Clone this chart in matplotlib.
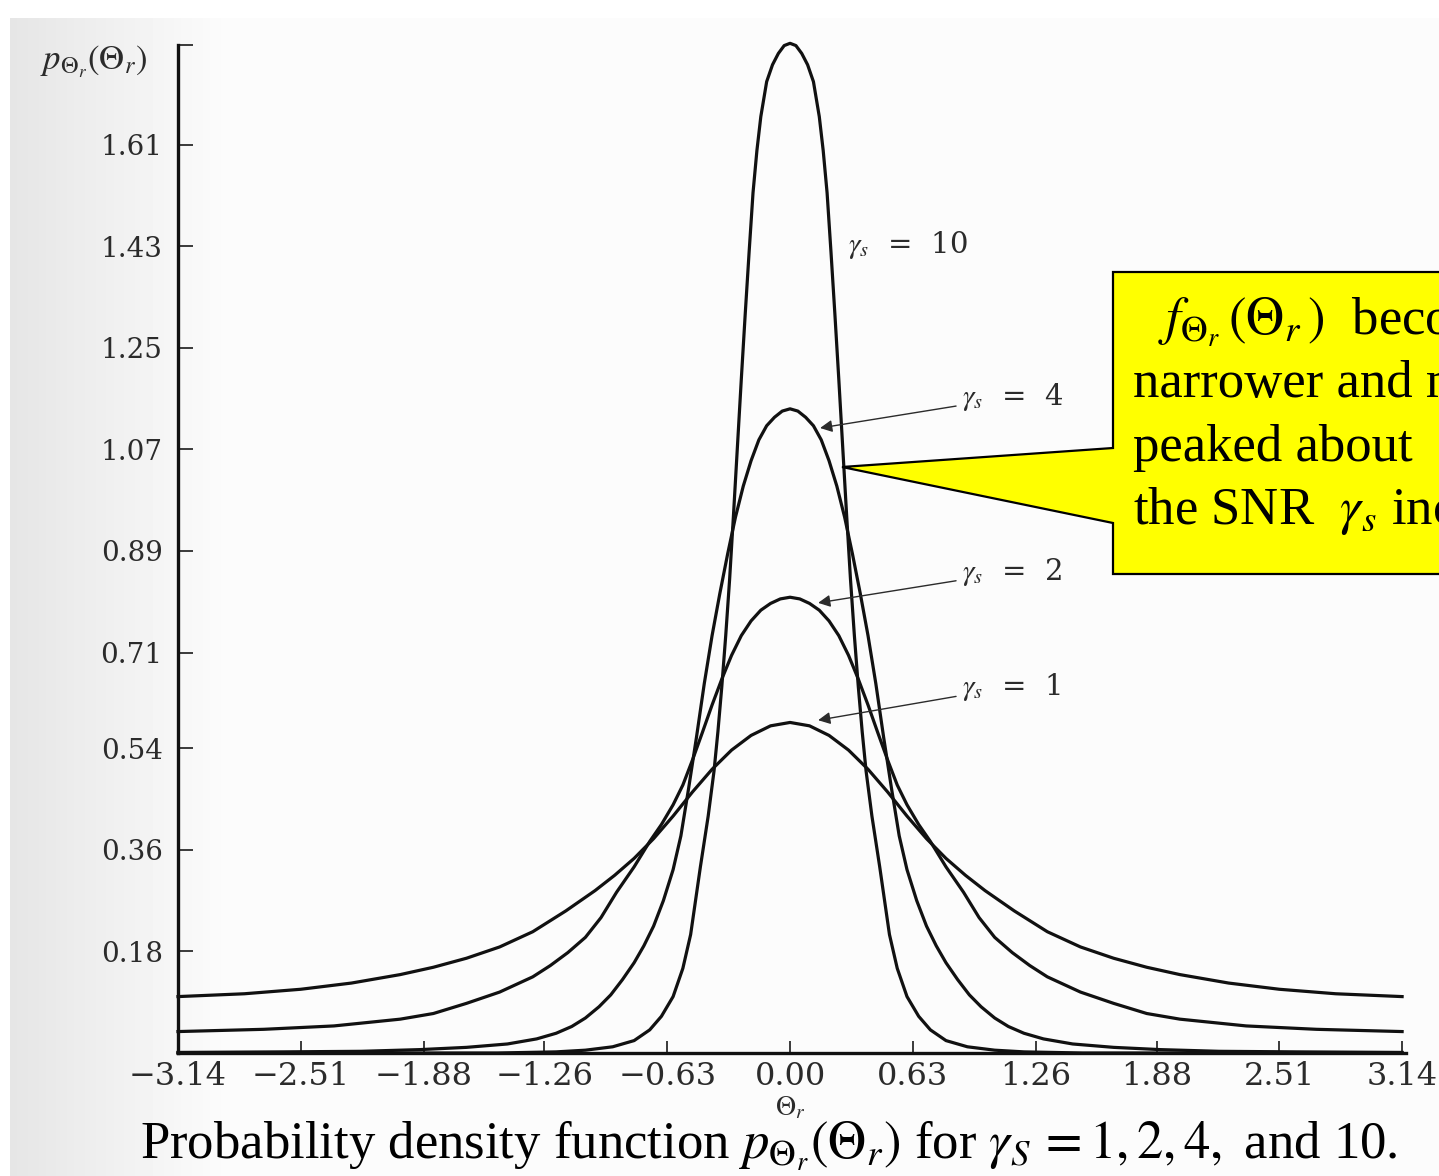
import numpy as np
import matplotlib
matplotlib.use("Agg")
import matplotlib.pyplot as plt
from matplotlib.patches import Polygon

plt.rcParams["mathtext.fontset"] = "stix"

theta_g1 = [0.00, 0.10, 0.20, 0.30, 0.40, 0.50, 0.60, 0.70, 0.80, 0.90, 1.00, 1.15, 1.32,
            1.49, 1.66, 1.83, 2.00, 2.25, 2.51, 2.80, 3.14]
pdf_g1 = [0.586, 0.580, 0.563, 0.537, 0.503, 0.463, 0.420, 0.380, 0.345, 0.315, 0.288, 0.252, 0.215,
          0.188, 0.168, 0.152, 0.139, 0.124, 0.113, 0.105, 0.100]

theta_g2 = [0.00, 0.05, 0.10, 0.15, 0.20, 0.25, 0.30, 0.35, 0.40, 0.45, 0.50, 0.55, 0.60, 0.66,
            0.72, 0.80, 0.89, 0.97, 1.05, 1.14, 1.23, 1.32, 1.49, 1.66, 1.83, 2.00, 2.34, 2.70, 3.14]
pdf_g2 = [0.808, 0.805, 0.797, 0.785, 0.766, 0.740, 0.705, 0.663, 0.617, 0.568, 0.520, 0.475, 0.440, 0.405,
          0.375, 0.330, 0.285, 0.240, 0.205, 0.178, 0.155, 0.135, 0.108, 0.088, 0.070, 0.060, 0.048, 0.042, 0.038]

theta_g4 = [0.00, 0.04, 0.08, 0.12, 0.16, 0.20, 0.24, 0.28, 0.32, 0.36, 0.40, 0.44, 0.48, 0.52,
            0.56, 0.60, 0.65, 0.70, 0.75, 0.80, 0.86, 0.92, 0.98, 1.05, 1.12, 1.20, 1.30, 1.45,
            1.66, 1.90, 2.20, 2.60, 3.14]
pdf_g4 = [1.142, 1.138, 1.127, 1.112, 1.087, 1.050, 1.005, 0.950, 0.885, 0.815, 0.740, 0.655, 0.560, 0.470,
          0.385, 0.325, 0.270, 0.225, 0.190, 0.160, 0.130, 0.103, 0.082, 0.062, 0.047, 0.035, 0.025, 0.016,
          0.010, 0.006, 0.003, 0.002, 0.001]

theta_g10 = [0.00, 0.03, 0.06, 0.09, 0.12, 0.15, 0.17, 0.19, 0.21, 0.23, 0.25, 0.27, 0.29, 0.31,
             0.33, 0.35, 0.37, 0.39, 0.42, 0.46, 0.51, 0.55, 0.60, 0.66, 0.72, 0.80, 0.91, 1.05,
             1.20, 1.50, 3.14]
pdf_g10 = [1.790, 1.786, 1.772, 1.752, 1.722, 1.660, 1.600, 1.525, 1.420, 1.310, 1.195, 1.075, 0.955, 0.840,
           0.740, 0.650, 0.570, 0.500, 0.420, 0.330, 0.210, 0.150, 0.100, 0.065, 0.041, 0.022, 0.011, 0.005,
           0.002, 0.000, 0.000]

xticks = [-3.14, -2.51, -1.88, -1.26, -0.63, 0.00, 0.63, 1.26, 1.88, 2.51, 3.14]
yticks = [0.18, 0.36, 0.54, 0.71, 0.89, 1.07, 1.25, 1.43, 1.61]

W, H = 1439, 1176
fig = plt.figure(figsize=(W / 100, H / 100), dpi=100, facecolor="white")

# scanned page background: light grey band on the left fading to white
bg = fig.add_axes([10 / W, 0, 1 - 10 / W, 1 - 18 / H], zorder=-5)
grad = np.linspace(0.90, 0.985, 60)
grad = np.concatenate([grad, np.full(340, 0.985)])
bg.imshow(np.tile(grad, (10, 1)), cmap="gray", vmin=0, vmax=1, aspect="auto",
          extent=[0, 1, 0, 1])
bg.axis("off")

ax = fig.add_axes([178 / W, 1 - 1053 / H, (1406 - 178) / W, (1053 - 45) / H])
ax.patch.set_alpha(0)

ink = "#111111"
grey = "#2b2b2b"
for th, p in [(theta_g1, pdf_g1), (theta_g2, pdf_g2), (theta_g4, pdf_g4), (theta_g10, pdf_g10)]:
    th = np.asarray(th)
    p = np.asarray(p)
    x = np.concatenate([-th[::-1], th[1:]])
    y = np.concatenate([p[::-1], p[1:]])
    ax.plot(x, y, color=ink, lw=2.3, clip_on=False, solid_joinstyle="round")

ax.set_xlim(-3.14, 3.16)
ax.set_ylim(0, 1.787)
for s in ["top", "right"]:
    ax.spines[s].set_visible(False)
for s in ["left", "bottom"]:
    ax.spines[s].set_linewidth(2.4)
    ax.spines[s].set_color(ink)

tick_font = dict(family="DejaVu Serif", color=grey)
ax.set_xticks(xticks)
ax.set_xticklabels([f"{v:.2f}".replace("-", "\u2212") for v in xticks], fontsize=23, **tick_font)
ax.set_yticks(yticks + [1.787])
ax.set_yticklabels([f"{v:.2f}" for v in yticks] + [""], fontsize=20, **tick_font)
ax.tick_params(axis="x", direction="in", length=9, width=1.3, pad=6, colors=grey)
ax.tick_params(axis="y", direction="in", length=11, width=1.3, pad=11, colors=grey)

ax.text(0.0, -0.054, r"$\Theta_r$", fontsize=20, color=grey, ha="center", va="center",
        transform=ax.get_xaxis_transform())
fig.text(40 / W, 1 - 62 / H, r"$p_{\Theta_r}(\Theta_r)$", fontsize=25, color=grey,
         ha="left", va="center")

# curve labels
lab = dict(fontsize=21, family="DejaVu Serif", color=grey, ha="left", va="center")
ax.text(0.297, 1.433, r"$\gamma_s$  =  10", **lab)
arrow = dict(arrowstyle="-|>", color=grey, lw=1.0, mutation_scale=18, shrinkA=2, shrinkB=0)
for txt, ytxt, xtip, ytip in [(r"$\gamma_s$  =  4", 1.163, 0.154, 1.108),
                              (r"$\gamma_s$  =  2", 0.853, 0.144, 0.798),
                              (r"$\gamma_s$  =  1", 0.649, 0.144, 0.590)]:
    ax.annotate(txt, xy=(xtip, ytip), xytext=(0.88, ytxt), arrowprops=arrow, **lab)

# yellow call-out box with pointer
box = Polygon([(1113 / W, 1 - 272 / H), (1.02, 1 - 272 / H), (1.02, 1 - 574 / H),
               (1113 / W, 1 - 574 / H), (1113 / W, 1 - 523 / H), (842 / W, 1 - 467 / H),
               (1113 / W, 1 - 448 / H)], closed=True, transform=fig.transFigure,
              facecolor="#ffff00", edgecolor="black", lw=1.6, zorder=10)
fig.add_artist(box)
box_font = dict(family="Liberation Serif", fontsize=38, color="black", ha="left", va="baseline", zorder=11)
fig.text(1158 / W, 1 - 335 / H, r"$f_{\Theta_r}\,(\Theta_r\,)$  becomes", **box_font)
fig.text(1133 / W, 1 - 397 / H, "narrower and more", **box_font)
fig.text(1133 / W, 1 - 461 / H, "peaked about", **box_font)
fig.text(1133 / W, 1 - 524 / H, r"the SNR  $\gamma_s$ increases", **box_font)

# caption
fig.text(140 / W, 1 - 1159 / H,
         r"Probability density function $p_{\Theta_r}(\Theta_r)$ for $\gamma_S\,=1, 2, 4,$ and 10.",
         family="Liberation Serif", fontsize=38, color="black", ha="left", va="baseline")

fig.savefig("out.png", dpi=100)
